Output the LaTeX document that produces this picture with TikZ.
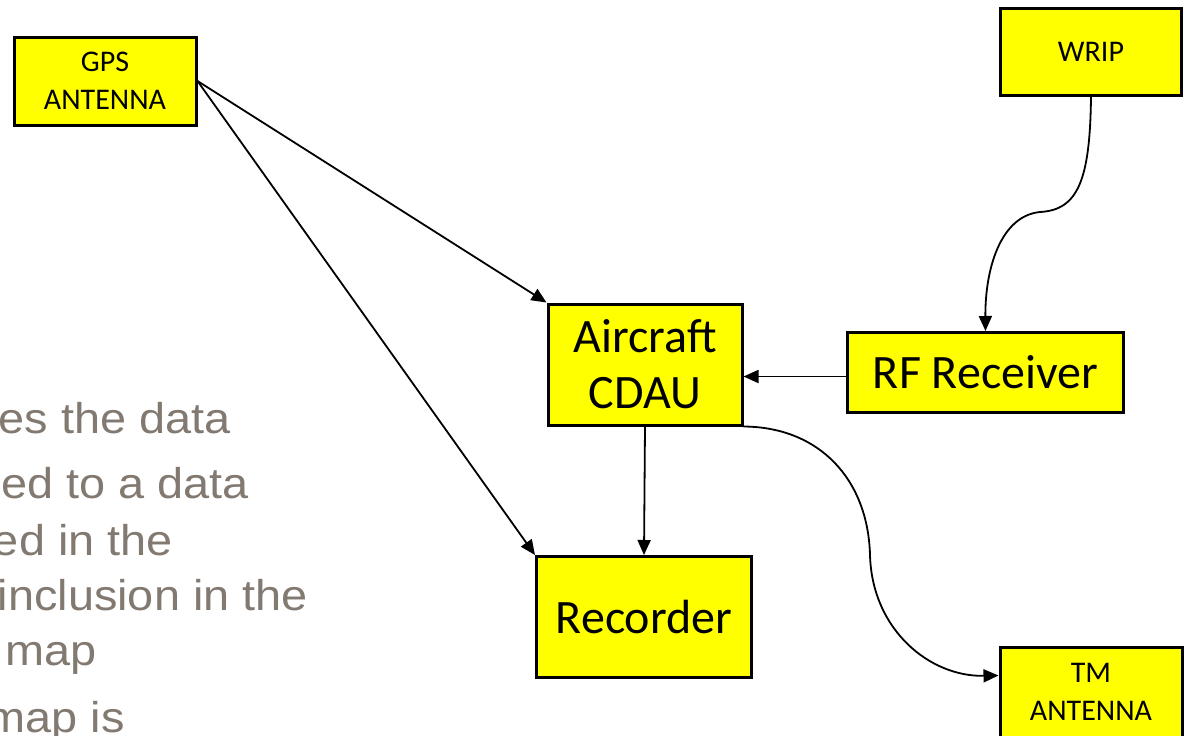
\documentclass[tikz,border=0pt]{standalone}
\usepackage{fontspec}
\setmainfont{Liberation Sans}
\newfontfamily\calibri{Carlito}
\newfontfamily\bodyfont[FakeStretch=1.09]{Liberation Sans}
\usetikzlibrary{arrows.meta,calc}
\definecolor{boxyellow}{RGB}{255,255,0}
\definecolor{bodygray}{RGB}{130,121,113}
\tikzset{
  ybox/.style={draw=black, line width=3pt, fill=boxyellow, align=center, inner sep=0pt},
  smalltxt/.style={font=\calibri\fontsize{30}{38}\selectfont},
  bigtxt/.style={font=\calibri\fontsize{48}{56}\selectfont},
  conn/.style={line width=1.8pt, -{Triangle[length=15pt,width=13pt]}},
  bodytext/.style={text=bodygray, font=\bodyfont\fontsize{43}{52}\selectfont, anchor=base east, inner sep=0pt}
}
\begin{document}
\begin{tikzpicture}[x=1pt,y=-1pt]
\useasboundingbox (0,0) rectangle (1187,736);
\clip (0,0) rectangle (1187,736);
\fill[white] (0,0) rectangle (1187,736);

% left partial text
\node[bodytext] (t1) at (231,433) {es the data};
\node[bodytext] (t2) at (249,498) {ed to a data};
\node[bodytext] (t3) at (173,555) {ed in the};
\node[bodytext] (t4) at (308,610) {inclusion in the};
\node[bodytext] (t5) at (97,665) {map};
\node[bodytext] (t6) at (125,732) {map is};

% boxes
\node[ybox, smalltxt, minimum width=182pt, minimum height=88pt] (gps) at (105,81) {GPS\\ANTENNA};
\node[ybox, smalltxt, minimum width=181pt, minimum height=87pt] (wrip) at (1091,52) {WRIP};
\node[ybox, smalltxt, minimum width=182pt, minimum height=90pt] (tm) at (1091,692) {TM\\ANTENNA};
\node[ybox, bigtxt, minimum width=194pt, minimum height=121pt] (cdau) at (645,364.5) {Aircraft\\CDAU};
\node[ybox, bigtxt, minimum width=276pt, minimum height=80pt] (rf) at (985.5,372.5) {RF Receiver};
\node[ybox, bigtxt, minimum width=215pt, minimum height=121pt] (rec) at (644,617) {Recorder};

% connectors
\draw[conn] (gps.east) -- (cdau.north west);
\draw[conn] (gps.east) -- (rec.north west);
\draw[conn] (cdau.south) -- (rec.north);
\draw[conn] ([yshift=-4pt]rf.west) -- ([yshift=-4pt]rf.west -| cdau.east);
\coordinate (wripmid) at (1040,212);
\draw[conn] (wrip.south) .. controls (1090,180) and (1078,210) .. (wripmid)
  .. controls (1000,216) and (985,270) .. (rf.north);
\coordinate (tmmid) at (870,555);
\coordinate (tmin) at ($(tm.north west)+(0,30)$);
\draw[conn] (cdau.south east) .. controls (820,427) and (868,480) .. (tmmid)
  .. controls (872,630) and (930,677) .. (tmin);
\end{tikzpicture}
\end{document}
